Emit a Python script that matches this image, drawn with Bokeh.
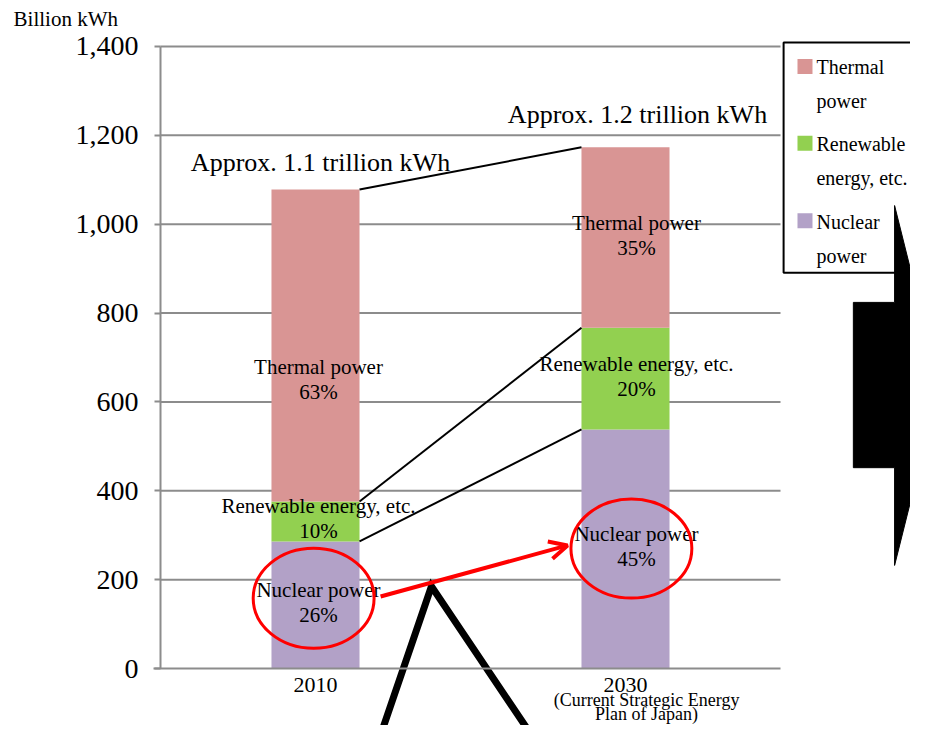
from bokeh.plotting import figure
from bokeh.models import (Range1d, FixedTicker, NumeralTickFormatter, ColumnDataSource,
                          Arrow, OpenHead)
from bokeh.core.properties import value
from bokeh.embed import file_html
from bokeh.resources import INLINE

# ---------------- data ----------------
years = ["2010", "2030"]
year_x = [0.5, 1.5]
nuclear = [286, 538]
renewable = [90, 229]
thermal = [702, 406]
pct_nuclear = ["26%", "45%"]
pct_renewable = ["10%", "20%"]
pct_thermal = ["63%", "35%"]
total_labels = ["Approx. 1.1 trillion kWh", "Approx. 1.2 trillion kWh"]
name_thermal = "Thermal power"
name_renewable = "Renewable energy, etc."
name_nuclear = "Nuclear power"
legend_lines = [["Thermal", "power"], ["Renewable", "energy, etc."], ["Nuclear", "power"]]
y_ticks = [0, 200, 400, 600, 800, 1000, 1200, 1400]
unit_label = "Billion kWh"
x_sub = ["(Current Strategic Energy", "Plan of Japan)"]

# ---------------- style ----------------
FONT = "Liberation Serif"
C_THERMAL = "#D99594"
C_RENEW = "#92D050"
C_NUC = "#B2A1C7"
GRID = "#8C8C8C"
BAR_W = 0.284
PX_X = 310.0      # pixels per x unit
PX_Y = 0.4443     # pixels per y unit
TY = -8           # baseline compensation for text glyphs (px)

W, H = 910, 725
p = figure(width=W, height=H, output_backend="svg", toolbar_location=None,
           x_range=Range1d(-160 / PX_X, (W - 160) / PX_X),
           y_range=Range1d(-(H - 668) / PX_Y, 668 / PX_Y),
           min_border_left=0, min_border_right=0, min_border_top=0, min_border_bottom=0)
p.outline_line_color = None
p.xgrid.visible = False
p.ygrid.visible = False
p.background_fill_color = "white"
p.border_fill_color = "white"

# y axis (fixed at x = 0)
p.yaxis.fixed_location = 0
p.yaxis.ticker = FixedTicker(ticks=y_ticks)
p.yaxis.formatter = NumeralTickFormatter(format="0,0")
p.yaxis.bounds = (0, 1400)
p.yaxis.axis_line_color = GRID
p.yaxis.axis_line_width = 2
p.yaxis.major_tick_line_color = GRID
p.yaxis.major_tick_line_width = 2
p.yaxis.major_tick_out = 6
p.yaxis.major_tick_in = 0
p.yaxis.minor_tick_line_color = None
p.yaxis.major_label_text_font = FONT
p.yaxis.major_label_text_font_size = "28px"
p.yaxis.major_label_text_color = "black"
p.yaxis.major_label_standoff = 16

# x axis (fixed at y = 0)
p.xaxis.fixed_location = 0
p.xaxis.ticker = FixedTicker(ticks=year_x)
p.xaxis.major_label_overrides = {x: y for x, y in zip(year_x, years)}
p.xaxis.bounds = (-0.023, 2.0)
p.xaxis.axis_line_color = GRID
p.xaxis.axis_line_width = 2
p.xaxis.major_tick_line_color = None
p.xaxis.minor_tick_line_color = None
p.xaxis.major_label_text_font = FONT
p.xaxis.major_label_text_font_size = "22px"
p.xaxis.major_label_text_color = "black"
p.xaxis.major_label_standoff = 3

def txt(x, y, t, size, align="center", xo=0, yo=0):
    p.text(x=x, y=y, text=t, x_offset=xo, y_offset=yo,
           text_font=value(FONT), text_font_size=size, text_color="black",
           text_align=align, text_baseline="alphabetic")

# gridlines
gy = y_ticks[1:]
p.segment(x0=[0] * len(gy), y0=gy, x1=[2.0] * len(gy), y1=gy,
          line_color=GRID, line_width=2, level="underlay")

# stacked bars
src = ColumnDataSource(dict(x=year_x, nuclear=nuclear, renewable=renewable, thermal=thermal))
p.vbar_stack(["nuclear", "renewable", "thermal"], x="x", width=BAR_W, source=src,
             fill_color=[C_NUC, C_RENEW, C_THERMAL], line_color=None)

# cumulative tops
top_nuc = nuclear
top_ren = [a + b for a, b in zip(nuclear, renewable)]
top_tot = [a + b for a, b in zip(top_ren, thermal)]

# connector lines between bars
for tops in (top_tot, top_ren, top_nuc):
    p.segment(x0=[year_x[0] + BAR_W / 2], y0=[tops[0]],
              x1=[year_x[1] - BAR_W / 2], y1=[tops[1]],
              line_color="black", line_width=2)

# segment labels (centred on segments; 2010 thermal label sits lower in the original)
mid_nuc = [n / 2 for n in nuclear]
mid_ren = [a + b / 2 for a, b in zip(nuclear, renewable)]
mid_the = [a + b / 2 for a, b in zip(top_ren, thermal)]
mid_the_adj = [mid_the[0] - 82, mid_the[1]]

lab_x_off = [3, 11]
for mids, name, pcts in ((mid_the_adj, name_thermal, pct_thermal),
                         (mid_ren, name_renewable, pct_renewable),
                         (mid_nuc, name_nuclear, pct_nuclear)):
    for i in range(2):
        txt([year_x[i]], [mids[i]], [name], "21px", xo=lab_x_off[i], yo=-7 + TY)
        txt([year_x[i]], [mids[i]], [pcts[i]], "21px", xo=lab_x_off[i], yo=18 + TY)

# total labels
tot_x_off = [5, 12]
tot_y_off = [-19, -25]
for i in range(2):
    txt([year_x[i]], [top_tot[i]], [total_labels[i]], "26px",
        xo=tot_x_off[i], yo=tot_y_off[i] + TY)

# red ellipses around nuclear
p.ellipse(x=[0.494, 1.519], y=[158, 270], width=[0.39, 0.39], height=[225, 223],
          fill_color=None, line_color="#FF0000", line_width=3)

# red arrow
p.add_layout(Arrow(x_start=0.71, y_start=162, x_end=1.313, y_end=277,
                   line_color="#FF0000", line_width=4,
                   end=OpenHead(line_color="#FF0000", line_width=4, size=18)))

# legend (manual, two-line labels)
p.quad(left=[2.01], right=[2.7], top=[1409], bottom=[891],
       fill_color="white", line_color="black", line_width=2)
leg_sw_y = [1355, 1182, 1008]
leg_colors = [C_THERMAL, C_RENEW, C_NUC]
p.scatter(x=[2.079] * 3, y=leg_sw_y, marker="square", size=15,
          fill_color=leg_colors, line_color=None)
for i, lines in enumerate(legend_lines):
    p.text(x=[2.116, 2.116], y=[leg_sw_y[i], leg_sw_y[i]], text=lines,
           y_offset=[9 + TY, 43 + TY], text_font=value(FONT), text_font_size="20px",
           text_color="black", text_align="left", text_baseline="alphabetic")

# big black arrow at the right
p.patch(x=[2.235, 2.368, 2.368, 2.513, 2.368, 2.368, 2.235],
        y=[824, 824, 1042, 637, 232, 452, 452],
        fill_color="black", line_color="black")

# callout pointer
p.line(x=[0.70, 0.874, 1.216], y=[-170, 185, -170], line_color="black",
       line_width=7, line_join="miter")

# unit label and x subtitle
txt([-0.474], [1443], [unit_label], "21px", align="left", yo=TY)
txt([1.568, 1.568], [(668 - 707) / PX_Y, (668 - 721) / PX_Y], x_sub, "18px", yo=TY)

open("out.html", "w").write(file_html(p, INLINE))
